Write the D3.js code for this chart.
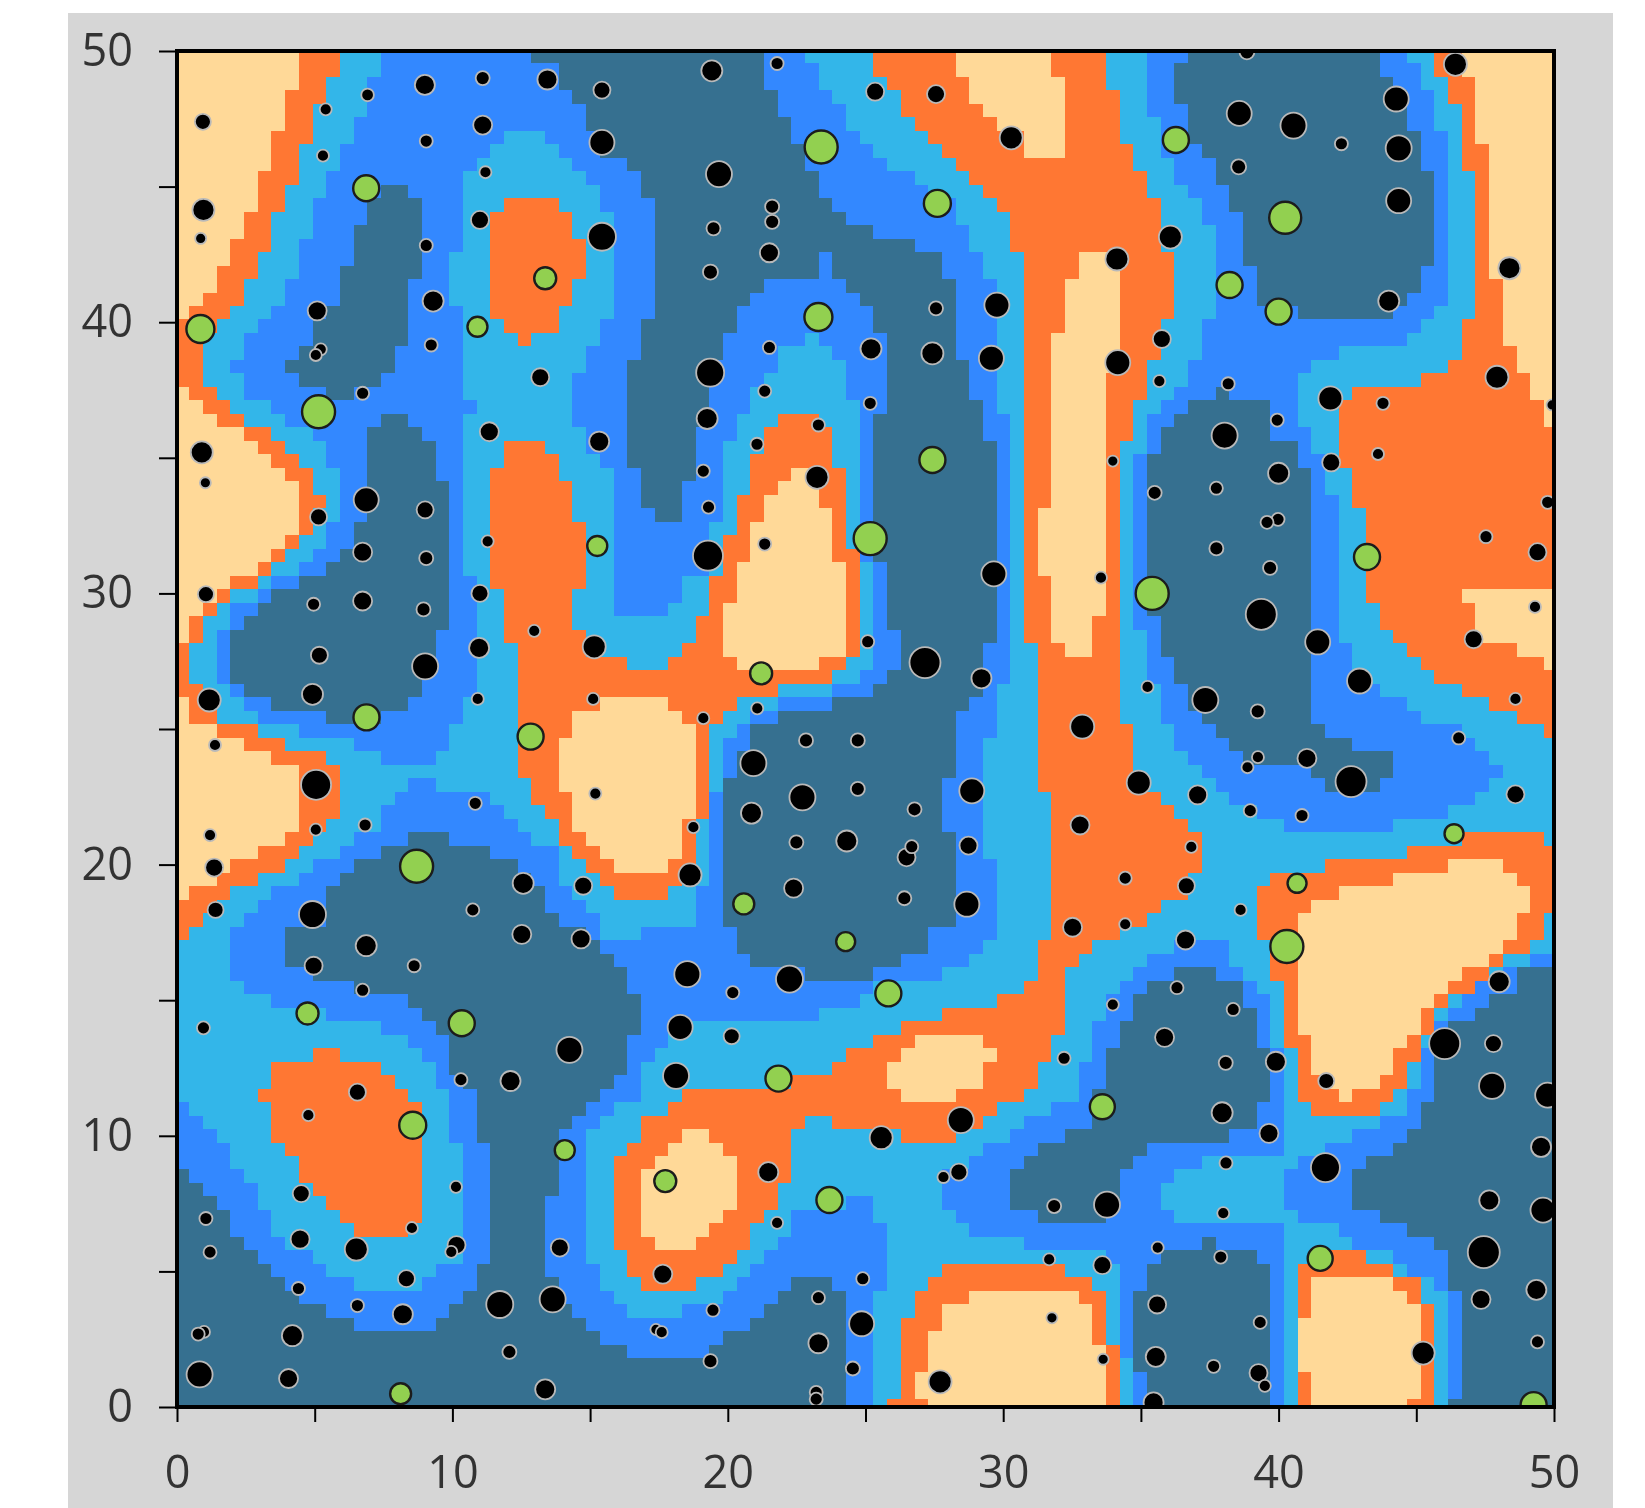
<!DOCTYPE html>
<html><head><meta charset="utf-8">
<script src="https://cdn.jsdelivr.net/npm/d3@7/dist/d3.min.js"></script>
<style>html,body{margin:0;padding:0;background:#fff}svg{display:block;filter:blur(0.6px)}</style>
</head><body><svg id="c" width="1645" height="1508"></svg>
<script>
const tickValues=[0,5,10,15,20,25,30,35,40,45,50];
const tickLabels=[0,10,20,30,40,50];
const classColors={teal:"#367090",blue:"#3388FF",sky:"#33B6E9",orange:"#FF7733",peach:"#FFD998"};

const blueMain=[[7.35,50],[22.75,50],[22.75,49.55],[23.3,49.55],[23.3,48.4],[23.7,48.4],[23.7,48],[24.25,48],[24.25,47],[24.7,47],[24.7,46.5],[25.2,46.5],[25.2,46],[25.7,46],[25.7,45.5],[26.7,45.5],[26.7,45],[27.2,45],[27.2,44.5],[28.2,44.5],[28.2,43.5],[28.75,43.5],[28.75,42.5],[29.15,42.5],[29.15,41.55],[29.75,41.55],[29.75,36.5],[30.2,36.5],[30.2,26.7],[29.75,26.7],[29.75,24.6],[29.15,24.6],[29.15,20.2],[29.75,20.2],[29.75,17.2],[29.15,17.2],[29.15,16.7],[28.8,16.7],[28.8,16.2],[27.65,16.2],[27.65,15.75],[26.3,15.75],[24.75,15.2],[24.75,14.75],[23.3,14.75],[23.3,14.2],[17.85,14.2],[17.85,13.2],[17.3,13],[17.3,12.6],[16.9,12.6],[16.9,11.3],[16.45,11.3],[15.75,10.7],[15.3,10.3],[14.75,9.8],[14.75,5.2],[15.3,5.2],[15.3,4.25],[15.75,4.25],[15.75,3.7],[16.3,3.7],[16.3,3.25],[18.25,3.25],[18.25,3.7],[19.7,3.7],[19.7,4.2],[20.2,4.2],[20.2,4.6],[20.8,4.6],[20.8,5.15],[21.25,5.15],[21.25,5.7],[21.8,5.7],[21.8,6.2],[22.4,6.2],[22.4,7.2],[24.3,7.2],[24.3,7.75],[25.2,7.75],[25.2,6.8],[25.7,6.8],[25.7,4.25],[25.3,4.25],[25.3,0],[0,0],[0,11.25],[0.5,11.25],[0.5,10.7],[0.9,10.7],[0.9,10.3],[1.45,10.3],[1.45,9.7],[1.85,9.7],[1.85,8.75],[2.4,8.75],[2.4,8.3],[2.85,8.3],[2.85,7.2],[3.4,7.2],[3.4,6.2],[3.85,6.2],[3.85,5.7],[4.95,5.7],[4.95,5.2],[5.4,5.2],[5.4,4.75],[6.35,4.75],[6.35,4.25],[8.9,4.25],[8.9,4.75],[9.3,4.75],[9.3,5.2],[10.4,5.2],[10.4,9.7],[9.85,9.7],[9.85,11.6],[9.3,11.6],[9.3,12.7],[8.9,12.7],[8.9,13.2],[8.3,13.2],[8.3,13.8],[7.35,13.8],[7.35,14.2],[5.4,14.2],[5.4,14.75],[3.4,14.75],[3.4,15.2],[2.4,15.2],[2.4,15.8],[1.85,15.8],[1.85,17.7],[2.4,17.7],[2.4,18.15],[2.85,18.15],[2.85,18.7],[3.45,18.7],[3.45,19.25],[4.4,19.25],[4.4,19.7],[4.95,19.7],[4.95,20.2],[5.9,20.2],[5.9,20.6],[6.35,20.6],[6.35,21.2],[7.3,21.2],[7.3,22.2],[8.35,22.6],[8.35,23.2],[9.3,23.2],[9.3,22.6],[11.35,22.6],[11.35,22.2],[11.75,22.2],[11.75,21.65],[12.4,21.65],[12.4,21.2],[12.9,21.2],[12.9,20.6],[13.8,20.6],[13.8,19.7],[14.35,19.2],[14.75,18.7],[15.3,18.1],[15.3,17.1],[16.9,17.1],[16.9,17.7],[18.8,17.7],[18.8,19.25],[19.25,19.25],[19.25,22.6],[19.8,22.6],[19.8,24.6],[20.25,24.6],[20.25,25.15],[20.8,25.15],[20.8,25.7],[21.8,25.7],[21.8,26.2],[23.7,26.2],[23.7,26.7],[24.75,26.7],[24.75,27.1],[25.3,27.1],[25.3,31.2],[24.7,31.2],[24.7,37.1],[24.25,37.1],[24.25,38.6],[23.7,38.6],[23.7,39],[23.3,39],[23.3,39.6],[22.75,39.6],[22.75,39],[21.8,39],[21.8,38],[21.2,38],[21.2,37.6],[20.8,37.6],[20.8,36.5],[20.2,36.5],[20.2,35.5],[19.8,35.5],[19.8,32.4],[19.25,32.4],[19.25,30.6],[18.25,30.6],[18.25,29.6],[17.85,29.6],[17.85,29.1],[15.75,29.1],[15.75,34.5],[15.3,34.5],[15.3,35.1],[14.75,35.1],[14.75,36.1],[14.35,36.1],[14.35,38],[14.75,38],[14.75,39],[15.3,39],[15.3,40],[15.75,40],[15.75,44.1],[15.3,44.1],[15.3,45],[14.75,45],[14.35,46],[13.8,46.5],[12.8,47],[11.85,47],[11.35,46.5],[10.8,46],[10.4,45.5],[10.4,42.5],[9.85,42.5],[9.85,40.6],[10.4,40.6],[10.4,37],[10.85,37],[10.85,36.5],[10.4,36.5],[10.4,30.7],[10.85,30.7],[10.85,26.1],[10.4,26.1],[10.4,25.2],[9.85,25.2],[9.85,24.2],[9.3,24.2],[9.3,23.6],[7.3,23.6],[7.3,24.2],[6.35,24.2],[6.35,24.6],[4.35,24.6],[4.35,25.15],[2.85,25.15],[2.85,25.8],[2.4,25.8],[2.4,26.1],[1.85,26.1],[1.85,26.7],[1.45,26.7],[1.45,28.65],[1.85,28.65],[1.85,29.6],[2.85,29.6],[2.85,30],[3.45,30],[3.45,30.6],[4.4,30.6],[4.4,31.1],[4.95,31.1],[4.95,31.6],[5.4,31.6],[5.4,32.5],[5.9,32.5],[5.9,34.5],[5.4,34.5],[5.4,35.6],[4.95,35.6],[4.95,36.1],[3.85,36.1],[3.85,36.6],[3.4,36.6],[3.4,37],[2.4,37],[2.4,38],[1.85,38],[1.85,38.6],[2.4,38.6],[2.4,39.5],[2.85,39.5],[2.85,40],[3.45,40],[3.45,40.6],[3.85,40.6],[3.85,41.55],[4.4,41.55],[4.4,43],[4.95,43],[4.95,44.4],[5.4,44.4],[5.4,45.5],[5.9,45.5],[5.9,46.5],[6.35,46.5],[6.35,47.5],[6.9,47.5],[6.9,49],[7.35,49]];
const blueNE=[[35.2,50],[44.6,50],[44.6,49.55],[45,49.55],[45,48.5],[45.55,48.5],[45.55,47],[46.15,47],[46.15,40.6],[45.5,40.6],[45.5,40],[45.05,40],[45.05,39.5],[44.6,39.5],[44.6,39],[42.1,39],[42.1,38.5],[41.1,38.5],[41.1,38],[40.65,38],[40.65,36.1],[41.1,36.1],[41.1,35.1],[41.65,35.1],[41.65,33.6],[42.1,33.6],[42.1,28.1],[42.6,28.1],[42.6,26.7],[43.6,26.7],[43.6,26.1],[44.6,26.1],[44.6,25.65],[45,25.65],[45,25.15],[46.6,25.15],[46.6,24.6],[47.15,24.6],[47.15,24.15],[47.55,24.15],[47.55,23.6],[48.1,23.6],[48.1,23.2],[47.55,23.2],[47.55,22.6],[47.15,22.6],[47.15,22.2],[46.15,22.2],[46.15,21.7],[44.05,21.7],[44.05,21.2],[40.1,21.2],[40.1,21.7],[39.2,21.7],[39.2,22.2],[38.2,22.2],[38.2,22.6],[37.65,22.6],[37.65,23.2],[37.2,23.2],[37.2,23.6],[36.65,23.6],[36.65,24.2],[36.2,24.2],[36.2,25.15],[35.65,25.15],[35.65,26.7],[35.2,26.7],[35.2,28.65],[34.7,28.65],[34.7,35.1],[35.2,35.1],[35.2,36.5],[35.65,36.5],[35.65,37.05],[36.2,37.05],[36.2,37.55],[36.7,37.55],[36.7,38.6],[37.2,38.6],[37.2,40],[37.6,40],[37.6,43.5],[37.2,43.5],[37.2,44.5],[36.7,44.5],[36.7,45],[36.2,45],[36.2,46],[35.65,46],[35.65,47.45],[35.2,47.45]];
const blueS=[[36.2,17.2],[38.2,17.2],[38.2,16.1],[38.6,16.1],[38.6,15.75],[39.15,15.75],[39.15,15.2],[39.6,15.2],[39.6,13.2],[40.1,13.2],[40.1,9.3],[37.2,9.3],[37.2,8.75],[36.2,8.75],[36.2,8.3],[35.65,8.3],[35.65,7.2],[36.2,7.2],[36.2,6.8],[40.1,6.8],[40.1,0],[34.7,0],[34.7,1.85],[34.25,1.85],[34.25,5.2],[33.65,5.2],[33.65,5.8],[30.75,5.8],[30.75,6.2],[28.8,6.2],[28.8,6.8],[28.2,6.8],[28.2,7.2],[27.65,7.2],[27.65,8.7],[28.8,8.7],[28.8,9.3],[29.15,9.3],[29.15,9.7],[30.2,9.7],[30.2,10.3],[30.75,10.3],[30.75,10.65],[31.7,10.65],[31.7,11.25],[32.7,11.25],[32.7,12.7],[33.2,12.7],[33.2,14.1],[33.7,14.1],[33.7,15.2],[34.25,15.2],[34.25,15.75],[34.7,15.75],[34.7,16.2],[35.2,16.2],[35.2,16.7],[36.2,16.7]];
const blueSE=[[50,16.7],[49.15,16.7],[49.15,16.2],[48.55,16.2],[47.55,15.75],[47.1,15.2],[46.5,14.75],[45.6,14.1],[45.6,13.8],[45,12.7],[45,11.7],[44.6,11.1],[44.05,10.7],[43.1,10.3],[42.1,9.7],[41.2,9.3],[40.65,9.3],[40.65,8.75],[40.1,8.75],[40.1,7.2],[40.65,7.2],[40.65,6.8],[42.1,6.8],[42.1,6.2],[43.6,5.8],[44.6,5.2],[45,4.8],[45.6,4.8],[45.6,4.25],[46.2,4.25],[46.2,0],[50,0]];

const tealLeftTop=[[7.4,45.1],[8.3,45.1],[8.3,44.5],[8.9,44.5],[8.9,41.5],[8.3,41.5],[8.3,39],[7.85,39],[7.85,38],[7.3,38],[7.3,37.6],[6.5,37.6],[6.5,37.1],[5.4,37.1],[5.4,37.6],[4.4,37.6],[4.4,38],[3.8,38],[3.8,38.6],[4.4,38.6],[4.4,39],[4.95,39],[4.95,40],[5.9,40.6],[5.9,42],[6.35,42],[6.35,43.5],[6.95,43.5],[6.95,44.5],[7.4,44.5]];
const tealCentre=[[12.8,50],[21.2,50],[21.2,48.4],[21.7,48.4],[21.7,47.4],[22.3,47.4],[22.3,46.5],[22.7,46.5],[22.7,45.5],[23.3,45.5],[23.3,44.5],[23.7,44.5],[23.7,44.05],[24.25,44.05],[24.25,43.5],[25.2,43.5],[25.2,43.1],[26.6,43.1],[26.6,42.5],[27.6,42.5],[27.6,41.55],[28.2,41.55],[28.2,38.6],[28.75,38.6],[28.75,37],[29.16,37],[29.16,35.5],[29.75,35.5],[29.75,28.1],[29.2,28.1],[29.2,26.2],[28.75,26.2],[28.75,25.7],[28.2,25.7],[28.2,23.2],[27.65,23.2],[27.65,21.2],[28.2,21.2],[28.2,17.7],[27.65,17.7],[27.2,17.1],[27.2,16.7],[26.25,16.7],[26.25,16.2],[25.2,16.2],[25.2,15.75],[22.8,15.75],[22.8,16.2],[20.8,16.2],[20.8,16.7],[20.25,16.7],[20.25,17.7],[19.8,17.7],[19.8,23.2],[20.25,23.2],[20.25,24.2],[20.8,24.2],[20.8,25.15],[21.8,25.15],[21.8,25.7],[23.7,25.7],[23.7,26.2],[25.3,26.2],[25.3,26.7],[25.7,26.7],[25.7,27.1],[26.25,27.1],[26.25,28.65],[25.7,28.65],[25.7,31.2],[25.3,31.2],[25.3,36.5],[25.7,36.5],[25.7,39.6],[25.2,39.6],[25.2,40.6],[24.7,40.6],[24.7,41.1],[24.25,41.1],[24.25,41.6],[23.7,41.6],[23.7,42.5],[23.3,42.5],[23.3,41.6],[21.2,41.6],[21.2,41.1],[20.8,41.1],[20.8,40.6],[20.2,40.6],[20.2,39.6],[19.8,39.6],[19.8,38.5],[19.3,38.5],[19.3,36.3],[18.8,36.3],[18.8,34.1],[18.25,34.1],[18.25,32.6],[17.3,32.6],[17.3,33.2],[16.9,33.2],[16.9,34.5],[16.3,34.5],[16.3,38.6],[16.9,38.6],[16.9,40],[17.3,40],[17.3,44.5],[16.9,44.5],[16.9,45.5],[16.3,45.5],[16.3,46.1],[15.7,46.1],[14.75,47.5],[14.75,48],[14.3,48],[14.3,48.5],[13.8,48.5],[13.8,49.6],[12.8,49.6]];
const tealLeftMid=[[7.35,36.5],[8.3,36.5],[8.3,36],[8.85,36],[8.85,35.5],[9.25,35.5],[9.25,34.5],[9.85,33.6],[9.85,28.65],[9.3,28.65],[9.3,27.3],[8.8,27.3],[8.8,26.1],[8.3,26.1],[8.3,25.7],[7.3,25.7],[7.3,25.15],[5.4,25.15],[5.4,25.7],[3.45,25.7],[3.45,26.1],[2.4,26.1],[2.4,26.7],[1.85,26.7],[1.85,28.65],[2.4,28.65],[2.4,29.1],[2.85,29.1],[2.85,29.6],[3.45,29.6],[3.45,30],[4.4,30],[4.4,30.6],[5.4,30.6],[5.4,31.1],[5.9,31.1],[5.9,31.6],[6.35,31.6],[6.35,32.6],[6.9,32.6],[6.9,36],[7.35,36]];
const tealSouthWest=[[8.35,21.2],[9.85,21.2],[9.85,20.65],[11.35,20.65],[11.35,20.2],[12.3,20.2],[12.3,19.7],[13.3,19.3],[13.3,18.6],[13.8,18.1],[14.35,17.7],[15.3,17.15],[15.3,16.7],[15.8,16.7],[15.8,16.2],[16.3,16.2],[16.3,15.2],[16.9,15.2],[16.9,13.8],[16.3,13.8],[16.3,12.2],[15.75,12.2],[15.75,11.7],[15.3,11.7],[15.3,11.2],[14.75,11.2],[14.75,10.7],[14.35,10.7],[14.35,10.3],[13.8,10.3],[13.8,7.75],[13.35,7.75],[13.35,4.8],[13.8,4.8],[13.8,3.8],[14.35,3.8],[14.35,3.3],[14.75,3.3],[14.75,2.8],[15.3,2.8],[15.3,2.3],[16.45,2.3],[16.45,1.85],[19.15,1.85],[19.15,2.3],[19.85,2.3],[19.85,2.8],[20.8,2.8],[20.8,3.3],[21.25,3.3],[21.25,3.8],[21.8,3.8],[21.8,4.25],[22.3,4.25],[22.3,4.75],[23.7,4.75],[23.7,4.25],[24.25,4.25],[24.25,0],[0,0],[0,8.65],[0.5,8.65],[0.5,8.3],[0.9,8.3],[0.9,7.75],[1.4,7.75],[1.4,7.2],[1.9,7.2],[1.9,6.15],[2.4,6.15],[2.4,5.8],[2.85,5.8],[2.85,5.2],[3.4,5.2],[3.4,4.75],[3.8,4.75],[3.8,4.25],[4.4,4.25],[4.4,3.8],[5.4,3.8],[5.4,3.3],[6.35,3.3],[6.35,2.85],[9.3,2.85],[9.3,3.3],[9.85,3.3],[9.85,3.8],[10.4,4.2],[10.85,4.8],[10.85,5.2],[11.4,5.2],[11.4,9.7],[10.85,9.7],[10.85,11.6],[10.4,12.1],[9.85,12.7],[9.85,13.8],[9.3,14.2],[8.85,14.7],[7.85,15.2],[4.95,15.75],[4.4,16.2],[3.8,16.7],[3.85,17.7],[5.4,17.7],[5.4,19.25],[5.9,19.25],[5.9,19.7],[6.35,19.7],[6.35,20.2],[7.4,20.2],[7.4,20.65],[8.35,20.65]];
const tealNE=[[36.65,50],[43.6,50],[43.6,49],[44.05,49],[44.6,48.5],[44.6,47],[45,47],[45,45.5],[45.55,45.5],[45.55,42],[45,42],[45,41.05],[44.6,41.05],[44.6,40.6],[44.05,40.6],[44.05,40],[40.55,40],[40.55,40.55],[39.15,40.55],[39.15,42],[38.6,42],[38.6,44],[38.2,44],[38.2,45],[37.65,45],[37.65,46],[37.2,46],[37.2,46.4],[36.65,46.4],[36.65,48],[36.2,48],[36.2,49.55],[36.65,49.55]];
const tealEast=[[37.65,37.55],[38.2,37.55],[38.2,37.05],[39.6,37.05],[39.6,36.1],[40.1,35.6],[40.65,35.6],[40.65,34.55],[41.1,34.55],[41.1,25.15],[41.65,25.15],[41.65,24.6],[42.65,24.6],[42.65,24.15],[44.05,24.15],[44.05,23.2],[43.6,23.2],[43.6,22.6],[42.5,22.6],[41.1,23.2],[41.1,23.6],[39.45,23.6],[38.2,24.2],[38.2,24.6],[37.65,24.6],[37.65,25.15],[37.2,25.15],[37.2,25.6],[36.65,25.6],[36.65,26.7],[36.2,26.7],[36.2,27.7],[35.65,27.7],[35.65,29.1],[35.2,29.1],[35.2,35.1],[35.65,35.1],[35.65,36.1],[36.2,36.1],[36.2,36.5],[36.65,36.5],[36.65,37.05],[37.65,37.05]];
const tealSouthCentre=[[36.2,16.1],[37.6,16.1],[37.6,15.75],[38.55,15.75],[38.55,15.2],[39.15,14.8],[39.15,13.2],[39.6,13.2],[39.6,11.3],[39.15,11.3],[39.15,10.3],[38.2,10.3],[38.2,9.7],[35.2,9.7],[35.2,9.3],[34.7,9.3],[34.7,8.75],[34.25,8.75],[34.25,7.2],[33.65,6.8],[31.15,6.8],[31.15,7.2],[30.2,7.2],[30.2,8.7],[30.75,8.7],[30.75,9.2],[31.2,9.2],[31.2,9.7],[32.1,9.7],[32.1,10.3],[33.2,10.3],[33.2,11.5],[33.7,11.5],[33.7,13.2],[34.25,13.2],[34.25,14.1],[34.7,14.1],[34.7,15.2],[35.2,15.2],[35.2,15.75],[36.2,15.75]];
const tealBottom=[[37.2,6.2],[37.6,6.2],[37.6,5.8],[39.15,5.8],[39.15,5.2],[39.6,5.2],[39.6,0],[35.2,0],[35.2,1.3],[34.7,1.3],[34.7,4.25],[35.2,4.25],[35.2,5.2],[35.65,5.2],[35.65,5.8],[37.2,5.8]];
const tealSE=[[50,16.2],[49.15,16.2],[48.55,15.75],[48.55,15.2],[47.55,15.2],[47.55,14.75],[47.1,14.75],[47.1,14.2],[46.5,14.2],[45.55,13],[45.55,11.3],[45,11.3],[45,10.3],[44.6,10.3],[44.6,9.7],[44.05,9.7],[44.05,9.3],[43.1,9.3],[43.1,8.75],[42.65,8.75],[42.65,7.2],[43.6,7.2],[43.6,6.8],[44.6,6.8],[44.6,6.2],[45.6,6.2],[45.6,5.8],[46.2,5.8],[46.2,4.25],[46.55,4.25],[46.55,0.3],[46.2,0.3],[46.2,0],[50,0]];

const orangeWest=[[0,50],[5.9,50],[5.9,49],[5.4,49],[5.4,48],[4.95,48],[4.95,46.5],[4.4,46.5],[4.4,45],[3.8,45],[3.8,44],[3.4,44],[3.4,42.5],[2.85,42.5],[2.85,41.55],[2.4,41.55],[2.4,40.6],[1.85,40.6],[1.85,40],[0.85,39.5],[0.85,37.6],[1.4,37.6],[1.4,37.05],[1.85,37.05],[1.85,36.5],[2.4,36.5],[2.4,36.1],[3.4,36.1],[3.4,35.5],[3.8,35.5],[3.8,35.1],[4.4,35.1],[4.4,34.55],[4.95,34.55],[4.95,33.6],[5.4,33.6],[5.4,33.1],[4.95,33.1],[4.95,32.2],[4.4,32.2],[4.4,31.6],[3.8,31.6],[3.8,31.2],[3.4,31.2],[3.4,30.6],[2.85,30.6],[2.85,30.1],[1.85,30.1],[1.85,29.6],[1.4,29.6],[1.4,29.1],[0.9,29.1],[0.9,28.05],[0.5,28.05],[0.5,26.7],[0.9,26.7],[0.9,26.1],[1.45,26.1],[1.45,25.15],[2.85,25.15],[2.85,24.6],[3.8,24.6],[3.8,24.2],[5.4,24.2],[5.4,23.6],[5.9,23.6],[5.9,21.65],[5.4,21.65],[4.95,21.2],[4.95,20.65],[4.4,20.65],[4.4,20.2],[3.8,20.2],[3.8,19.7],[2.85,19.7],[2.85,19.25],[1.85,19.25],[1.85,18.7],[1.4,18.7],[1.4,18.15],[0.9,18.15],[0.9,17.7],[0.5,17.7],[0.5,17.15],[0,17.15]];
const orangeTopLeft=[[11.85,44.5],[13.8,44.5],[13.8,44],[14.35,44],[14.35,43],[14.75,43],[14.75,41.55],[14.35,41.55],[14.35,40.6],[13.8,40.6],[13.8,39.6],[12.8,39.6],[12.8,39],[12.4,39],[12.4,39.6],[11.85,39.6],[11.85,40],[11.35,40],[11.35,44],[11.85,44]];
const orangeCentre=[[11.85,35.5],[13.35,35.5],[13.35,35.1],[13.8,35.1],[13.8,34.1],[14.35,34.1],[14.35,32.6],[14.75,32.6],[14.75,30],[14.35,30],[14.35,28.65],[14.75,28.65],[14.75,27.6],[16.3,27.6],[16.3,27.1],[17.85,27.1],[17.85,27.6],[18.25,27.6],[18.25,28.1],[18.8,28.1],[18.8,29.1],[19.25,29.1],[19.25,30.6],[19.8,30.6],[19.8,32.15],[20.25,32.15],[20.25,33.6],[20.8,33.6],[20.8,35.1],[21.25,35.1],[21.25,36.1],[21.8,36.1],[21.8,36.5],[23.3,36.5],[23.7,36.1],[23.7,34.55],[24.25,34.55],[24.25,31.6],[24.7,31.6],[24.7,27.7],[24.25,27.7],[24.25,27.2],[23.7,27.2],[23.7,26.7],[21.8,26.7],[21.8,26.2],[20.2,26.2],[20.2,25.7],[19.8,25.7],[19.8,25.15],[19.25,25.15],[19.25,21.65],[18.8,21.65],[18.8,19.7],[17.85,19.2],[17.85,18.7],[15.75,18.7],[15.75,19.25],[15.3,19.25],[15.3,19.7],[14.75,19.7],[14.75,20.2],[14.35,20.2],[14.35,20.6],[13.8,20.6],[13.8,21.65],[13.35,21.65],[13.35,22.2],[12.85,22.2],[12.85,23.2],[12.4,23.2],[12.4,28.1],[11.8,28.1],[11.8,30],[11.35,30],[11.35,34.55],[11.85,34.55]];
const orangeSpine=[[25.2,50],[33.7,50],[33.7,48.4],[34.25,48.4],[34.25,46.5],[34.7,46.5],[34.7,45.5],[35.2,45.5],[35.2,44.5],[35.65,44.5],[35.65,42.5],[36.2,42.5],[36.2,40],[35.65,40],[35.65,38.6],[35.2,38.6],[35.2,37.05],[34.7,37.05],[34.7,35.5],[34.25,35.5],[34.25,25.15],[34.7,25.15],[34.7,22.6],[35.65,22.6],[35.65,22.2],[36.2,22.2],[36.2,21.5],[36.6,21.5],[36.6,21.1],[37.15,21.1],[37.15,19.7],[36.6,19.7],[36.6,18.7],[35.65,18.7],[35.65,18.1],[35.2,18.1],[35.2,17.7],[34.25,17.7],[34.25,17.2],[33.7,17.2],[33.15,16.7],[32.65,16.7],[32.65,16.2],[32.1,16.2],[32.1,13.8],[31.7,13.8],[31.7,12.7],[31.15,12.7],[31.15,11.7],[30.75,11.7],[30.75,11.25],[29.75,11.25],[29.75,10.7],[29.15,10.7],[29.15,10.1],[28.2,10.1],[28.2,9.7],[26.1,9.7],[26.1,10.3],[23.7,10.3],[23.7,10.7],[22.75,10.7],[22.75,10.3],[22.3,10.3],[22.3,8.3],[21.75,8.3],[21.75,7.2],[21.25,7.2],[21.25,6.8],[20.75,6.8],[20.75,5.8],[20.2,5.8],[20.2,5.2],[19.8,5.2],[19.8,4.75],[18.8,4.75],[18.8,4.25],[16.9,4.25],[16.9,4.8],[16.3,4.8],[16.3,5.8],[15.75,5.8],[15.75,9.3],[16.3,9.3],[16.3,9.7],[16.9,9.7],[16.9,10.7],[17.85,10.7],[17.85,11.25],[18.25,11.25],[18.25,11.7],[21.5,11.7],[22.75,12.2],[23.7,12.2],[23.7,12.6],[24.3,12.6],[24.3,13.2],[25.3,13.2],[25.3,13.8],[26.25,13.8],[26.25,14.15],[27.65,14.15],[27.65,14.7],[29.75,14.7],[29.75,15.2],[30.75,15.2],[30.75,15.75],[31.15,15.75],[31.15,17.2],[31.7,17.2],[31.7,22.6],[31.15,22.6],[31.15,28.1],[30.75,28.1],[30.75,42.5],[30.2,42.5],[30.2,44],[29.75,44],[29.75,44.5],[29.15,44.5],[29.15,45],[28.75,45],[28.75,45.5],[28.2,45.5],[28.2,46],[27.65,46],[27.65,46.5],[27.2,46.5],[27.2,47],[26.7,47],[26.7,47.5],[26.25,47.5],[26.25,48.4],[25.7,48.4],[25.7,49],[25.2,49]];
const orangeSouthWest=[[4.95,13.2],[5.9,13.2],[5.9,12.6],[7.3,12.6],[7.3,12.2],[7.85,12.2],[7.85,11.7],[8.3,11.7],[8.3,11.25],[8.85,11.25],[8.85,6.85],[8.3,6.85],[8.3,6.2],[6.35,6.2],[6.35,6.8],[5.9,6.8],[5.9,7.2],[5.4,7.2],[5.4,7.75],[4.95,7.75],[4.95,8.3],[4.4,8.3],[4.4,9.3],[3.85,9.3],[3.85,9.7],[3.4,9.7],[3.4,11.25],[2.85,11.25],[2.85,11.7],[3.4,11.7],[3.4,12.6],[4.95,12.6]];
const orangeBottom=[[27.65,5.2],[32.1,5.2],[32.1,4.8],[33.1,4.8],[33.1,4.25],[33.7,4.25],[33.7,2.3],[34.25,2.3],[34.25,0],[25.7,0],[25.7,0.3],[26.25,0.3],[26.25,3.2],[26.7,3.2],[26.7,4.2],[27.2,4.2],[27.2,4.75],[27.65,4.75]];
const orangeBottomRight=[[41.5,5.8],[43,5.8],[43,5.2],[44.05,5.2],[44.05,4.8],[45,4.8],[45,3.8],[45.6,3.8],[45.6,0],[40.7,0],[40.7,5.2],[41.5,5.2]];
const orangeSE=[[46.7,21.2],[49.5,21.2],[49.5,20.65],[50,20.65],[50,18.15],[49.5,18.15],[49.5,17.15],[49.1,17.15],[49.1,16.9],[48.2,16.9],[48.2,16.2],[47.55,16.2],[47.55,15.75],[47.1,15.75],[47.1,15.2],[46.2,15.2],[46.2,14.75],[45.6,14.75],[45.6,13.8],[45.1,13.8],[45.1,12.7],[44.6,12.7],[44.6,11.7],[44.05,11.7],[44.05,11.25],[43.6,11.25],[43.6,10.7],[41.15,10.7],[41.15,11.25],[40.7,11.25],[40.7,13.2],[40.1,13.2],[40.1,15.75],[39.6,15.75],[39.6,17.2],[39.15,17.2],[39.15,19.25],[39.6,19.25],[39.6,19.7],[41.65,19.7],[41.65,20.2],[44.6,20.2],[44.6,20.65],[46.7,20.65]];
const orangeEast=[[45.6,50],[50,50],[50,24.6],[49.5,24.6],[49.5,25.15],[48.55,25.15],[48.55,25.7],[47.55,25.7],[47.55,26.1],[46.6,26.1],[46.6,26.7],[45.6,26.7],[45.6,27.1],[45.1,27.1],[45.1,27.7],[44.6,27.7],[44.6,28.1],[44.05,28.1],[44.05,28.65],[43.6,28.65],[43.6,29.6],[43.1,29.6],[43.1,33.1],[42.65,33.1],[42.65,34.5],[42.1,34.5],[42.1,37],[42.65,37],[42.65,37.6],[45,37.6],[45,38],[46.15,38],[46.15,38.6],[46.6,38.6],[46.6,40],[47.15,40],[47.15,45.5],[46.6,45.5],[46.6,48],[46.15,48],[46.15,49],[45.6,49.5]];

const peachNW=[[0,50],[4.4,50],[4.4,48.4],[3.8,48.4],[3.8,47],[3.4,47],[3.4,45.5],[2.85,45.5],[2.85,44.1],[2.4,44.1],[2.4,43.1],[1.85,43.1],[1.85,42],[1.4,42],[1.4,41],[0.9,41],[0.9,40.6],[0.5,40.6],[0.5,40],[0,40]];
const peachW=[[0,37.6],[0.5,37.6],[0.5,37.05],[0.9,37.05],[0.9,36.5],[1.4,36.5],[1.4,36.1],[2.4,36.1],[2.4,35.5],[2.85,35.5],[2.85,35.1],[3.4,35.1],[3.4,34.55],[3.8,34.55],[3.8,34.1],[4.4,34.1],[4.4,32.15],[3.8,32.15],[3.8,31.6],[3.4,31.6],[3.4,31.2],[2.85,31.2],[2.85,30.6],[1.85,30.6],[1.85,30.1],[1.4,30.1],[1.4,29.6],[0.9,29.6],[0.9,29.1],[0.5,29.1],[0.5,28.05],[0,28.05]];
const peachSW=[[0,26.1],[0.5,26.1],[0.5,25.15],[1.45,25.15],[1.45,24.6],[2.4,24.6],[2.4,24.2],[3.4,24.2],[3.4,23.6],[4.4,23.6],[4.4,21.2],[3.8,21.2],[3.8,20.65],[2.85,20.65],[2.85,20.2],[1.85,20.2],[1.85,19.7],[1.4,19.7],[1.4,19.25],[0.5,19.25],[0.5,18.7],[0,18.7]];
const peachMid=[[15.3,26.1],[17.85,26.1],[17.85,25.7],[18.25,25.7],[18.25,25.15],[18.8,25.15],[18.8,21.65],[18.25,21.65],[18.25,20.2],[17.85,20.2],[17.85,19.7],[15.75,19.7],[15.75,20.1],[15.3,20.1],[15.3,20.6],[14.75,20.6],[14.75,21.2],[14.35,21.2],[14.35,22.6],[13.8,22.6],[13.8,24.6],[14.35,24.6],[14.35,25.6],[15.3,25.6]];
const peachInner=[[22.3,34.55],[23.3,34.55],[23.3,33.1],[23.7,33.1],[23.7,31.2],[24.25,31.2],[24.25,27.7],[23.3,27.7],[23.3,27.1],[20.25,27.1],[20.25,27.7],[19.8,27.7],[19.8,29.6],[20.2,29.6],[20.2,31.2],[20.8,31.2],[20.8,32.6],[21.25,32.6],[21.25,33.55],[21.8,33.55],[21.8,34.1],[22.3,34.1]];
const peachTop=[[28.2,50],[31.7,50],[31.7,49],[32.1,49],[32.1,46],[30.75,46],[30.75,47],[29.75,47],[29.75,47.5],[29.15,47.5],[29.15,48],[28.75,48],[28.75,49],[28.2,49]];
const peachLong=[[32.7,42.5],[34.25,42.5],[34.25,38.1],[33.7,38.1],[33.7,29.1],[33.15,29.1],[33.15,27.7],[32.15,27.7],[32.15,28.1],[31.7,28.1],[31.7,30.6],[31.15,30.6],[31.15,33.1],[31.75,33.1],[31.75,39.6],[32.15,39.6],[32.15,41.55],[32.7,41.55]];
const peachSmall=[[26.7,13.8],[29.15,13.8],[29.15,13.2],[29.75,13.2],[29.75,12.7],[29.15,12.7],[29.15,11.7],[28.2,11.7],[28.2,11.25],[26.25,11.25],[26.25,11.7],[25.7,11.7],[25.7,12.6],[26.25,12.6],[26.25,13.2],[26.7,13.2]];
const peachLower=[[18.25,10.3],[19.25,10.3],[19.25,9.75],[19.8,9.75],[19.8,9.3],[20.2,9.3],[20.2,7.2],[19.8,7.2],[19.8,6.8],[19.25,6.8],[19.25,6.2],[18.8,6.2],[18.8,5.8],[17.3,5.8],[17.3,6.2],[16.9,6.2],[16.9,8.75],[17.3,8.75],[17.3,9.3],[17.85,9.3],[17.85,9.75],[18.25,9.75]];
const peachBottom=[[28.8,4.25],[32.7,4.25],[32.7,3.8],[33.1,3.8],[33.1,2.3],[33.7,2.3],[33.7,0],[27.2,0],[27.2,0.3],[26.7,0.3],[26.7,1.3],[27.2,1.3],[27.2,2.9],[27.65,2.9],[27.65,3.8],[28.8,3.8]];
const peachBottomRight=[[41.15,4.8],[44.05,4.8],[44.05,4.25],[44.6,4.25],[44.6,3.8],[45.1,3.8],[45.1,0.3],[44.6,0.3],[44.6,0],[41.15,0],[41.15,1.3],[40.7,1.3],[40.7,3.3],[41.15,3.3]];
const peachSE=[[46.2,20.2],[48.1,20.2],[48.1,19.7],[48.5,19.7],[48.5,19.25],[49.1,19.25],[49.1,18.15],[48.5,18.15],[48.5,17.15],[48.1,17.15],[48.1,16.9],[47.55,16.9],[47.55,16.2],[46.6,16.2],[46.6,15.75],[46.2,15.75],[46.2,15.2],[45.6,15.2],[45.6,14.75],[45.1,14.75],[45.1,13.8],[44.6,13.8],[44.6,13.2],[44.05,13.2],[44.05,12.2],[43.6,12.2],[43.6,11.7],[42.65,11.7],[42.65,11.25],[42.1,11.25],[42.1,11.7],[41.1,12.2],[41.1,13.8],[40.65,13.8],[40.65,18.15],[41.1,18.15],[41.1,18.7],[42.05,18.7],[42.05,19.25],[44.05,19.25],[44.05,19.7],[46.2,19.7]];
const peachNE=[[46.85,50],[50,50],[50,36.1],[49.5,36.1],[49.5,37.05],[49.1,37.05],[49.1,38],[48.55,38],[48.55,39],[48.1,39],[48.1,41.55],[47.55,41.55],[47.55,46.5],[47.15,46.5],[47.15,49],[46.85,49]];
const peachE=[[46.6,30],[50,30],[50,27.1],[49.5,27.1],[49.5,27.7],[48.55,27.7],[48.55,28.1],[47.55,28.1],[47.15,28.6],[47.15,29.6],[46.6,29.6]];

const paintOrder=[["blue",blueMain],["blue",blueNE],["blue",blueS],["blue",blueSE],
["teal",tealLeftTop],["teal",tealCentre],["teal",tealLeftMid],["teal",tealSouthWest],["teal",tealNE],["teal",tealEast],["teal",tealSouthCentre],["teal",tealBottom],["teal",tealSE],
["orange",orangeWest],["orange",orangeTopLeft],["orange",orangeCentre],["orange",orangeSpine],["orange",orangeSouthWest],["orange",orangeBottom],["orange",orangeBottomRight],["orange",orangeSE],["orange",orangeEast],
["peach",peachNW],["peach",peachW],["peach",peachSW],["peach",peachMid],["peach",peachInner],["peach",peachTop],["peach",peachLong],["peach",peachSmall],["peach",peachLower],["peach",peachBottom],["peach",peachBottomRight],["peach",peachSE],["peach",peachNE],["peach",peachE]];

const blackPoints=[[0.94,47.39,9],[6.92,48.38,7.3],[5.4,47.85,7],[9,48.75,11],[11.1,49,8],[13.45,48.95,11],[15.43,48.56,9.5],[11.1,47.27,10.5],[9.05,46.68,7.5],[15.43,46.63,13.5],[5.3,46.14,7],[11.2,45.53,7],[0.96,44.14,12],[11,43.77,10],[0.86,43.09,6.5],[9.05,42.83,7.5],[15.43,43.15,15],[9.3,40.78,11.5],[5.09,40.42,10.5],[5.22,39,7],[5.04,38.79,7],[9.23,39.16,7.5],[13.19,37.97,10],[6.74,37.38,7.5],[11.34,35.96,10.5],[15.33,35.6,11],[0.9,35.2,12],[1.03,34.08,6.5],[6.87,33.45,13.5],[9.01,33.08,9.5],
[19.42,49.27,11.5],[21.79,49.54,7.5],[25.35,48.5,10],[27.56,48.41,10],[30.29,46.8,12.5],[19.68,45.46,14],[21.61,44.26,8],[21.61,43.7,8],[19.48,43.46,8],[21.51,42.56,10.5],[19.37,41.85,8.5],[27.56,40.51,8],[29.77,40.63,13.5],[21.51,39.07,7.5],[25.2,39.02,11.5],[27.43,38.85,12],[29.57,38.67,13.5],[19.36,38.14,15],[21.34,37.46,7.5],[25.17,37.01,7.5],[19.25,36.45,11.5],[23.29,36.21,7.5],[21.06,35.5,7.5],[19.11,34.51,7.5],[23.24,34.28,12.5],[19.3,33.18,7.5],
[38.85,49.97,8.5],[46.42,49.51,12.5],[38.57,47.7,13.5],[40.54,47.25,14],[44.27,48.23,13.5],[44.36,46.41,14],[42.28,46.58,7.5],[38.55,45.73,8.5],[44.36,44.48,13.5],[36.07,43.14,12.5],[34.13,42.33,12.5],[48.38,41.99,12],[44,40.78,11.5],[35.76,39.38,10],[34.16,38.51,13.5],[35.67,37.83,7],[38.17,37.73,7.5],[41.88,37.19,13],[43.79,37.01,7.5],[47.93,37.97,12.5],[49.93,36.95,6.5],[39.95,36.39,7.5],[38.04,35.82,14],[41.91,34.83,10],[43.61,35.14,7],[33.98,34.88,6.5],[40,34.43,11.5],[37.74,33.88,7.5],[35.5,33.71,8],[49.77,33.36,7.5],
[5.14,32.82,9.5],[6.74,31.52,10.5],[9.05,31.3,8],[1.05,29.97,9],[4.96,29.6,7.5],[6.74,29.72,10.5],[8.95,29.41,8],[11,30,9.5],[11.28,31.92,7],[12.97,28.62,7],[5.17,27.72,9.5],[10.97,27.99,11],[15.15,28.03,12.5],[9.01,27.31,14],[1.17,26.07,12.5],[4.92,26.28,11.5],[10.92,26.11,7],[15.11,26.11,7],[1.38,24.41,7],[5.05,22.94,16],[15.19,22.62,7],[10.83,22.26,7.5],[6.83,21.46,7.5],[5.04,21.29,7],[1.2,21.09,7],[1.35,19.89,10],[12.57,19.31,11.5],[14.75,19.22,10],[1.4,18.33,9],[10.74,18.33,7.5],[4.92,18.16,14.5],[12.52,17.43,10.5],[14.67,17.26,10.5],[6.87,17.01,11.5],
[19.28,31.39,16],[21.34,31.82,7.5],[29.66,30.72,13.5],[33.55,30.58,7],[25.08,28.22,7.5],[27.16,27.45,16.5],[29.21,26.87,11],[21.07,25.76,7],[19.11,25.4,7],[32.87,25.09,13],[22.84,24.58,8],[24.72,24.58,8],[20.93,23.74,14],[22.71,22.48,14],[24.72,22.79,8],[28.86,22.72,13.5],[20.86,21.9,11.5],[26.78,22.04,8],[18.75,21.38,7],[32.79,21.46,10.5],[22.49,20.82,8],[24.32,20.87,11.5],[26.49,20.27,10],[26.68,20.66,7.5],[28.74,20.7,10],[18.63,19.62,12.5],[22.39,19.13,10.5],[26.41,18.76,8],[28.68,18.54,13.5],[32.52,17.69,10.5],
[39.98,32.73,7.5],[39.58,32.62,7.5],[37.74,31.66,8],[47.53,32.09,7.5],[49.4,31.52,10],[39.69,30.94,8],[39.37,29.23,16.5],[49.31,29.5,7],[47.08,28.31,10],[41.42,28.21,13.5],[42.94,26.77,13.5],[48.6,26.11,7],[35.24,26.55,7],[37.34,26.07,14],[39.24,25.65,8],[46.54,24.67,7.5],[39.25,23.96,7],[38.87,23.59,7],[41.03,23.92,10.5],[42.63,23.06,16.5],[34.92,23.02,13],[48.6,22.59,10],[37.06,22.57,10.5],[38.97,21.99,7.5],[40.85,21.81,7.5],[36.83,20.65,7],[34.43,19.5,7.5],[36.65,19.22,9.5],[38.62,18.33,7],[34.43,17.8,7],[36.62,17.22,10.5],
[4.96,16.27,10],[8.61,16.27,7.5],[6.74,15.37,7.5],[0.96,13.98,7.5],[14.25,13.17,14],[12.11,12.02,11],[10.31,12.07,7.5],[6.55,11.61,9.5],[4.77,10.76,7],[10.13,8.12,7],[1.05,6.95,7.5],[4.51,7.87,9.5],[8.53,6.6,7],[4.47,6.19,10.5],[6.51,5.82,12.5],[10.15,5.97,10],[9.96,5.72,7],[1.2,5.71,7.5],[13.9,5.88,10],[8.33,4.73,9.5],[4.41,4.37,7.5],[6.55,3.74,7.5],[8.2,3.42,11],[11.72,3.78,14.5],[13.64,3.97,14],[12.07,2.03,8],[0.98,2.77,7],[0.77,2.69,7.5],[4.19,2.63,11.5],[0.82,1.2,14],[4.05,1.05,10.5],[13.37,0.65,11],
[18.53,15.96,14],[20.18,15.28,7.5],[22.24,15.78,14.5],[18.27,14,13.5],[20.14,13.67,9],[18.12,12.21,14],[32.21,12.86,7.5],[21.47,8.66,11],[25.57,9.93,12.5],[28.46,10.58,14],[27.83,8.48,7],[28.39,8.66,9.5],[21.79,6.79,7],[17.64,4.9,10.5],[24.9,4.73,7.5],[31.85,7.41,8],[31.67,5.44,7],[33.6,5.23,10],[23.29,4.03,7.5],[19.46,3.57,7.5],[24.86,3.07,13.5],[31.77,3.29,6.5],[17.39,2.86,6.5],[17.6,2.76,7],[23.29,2.35,11],[19.37,1.69,8],[24.54,1.42,8],[27.71,0.93,12.5],[23.21,0.54,7.5],[23.21,0.29,7.5],
[48.01,15.68,11.5],[36.31,15.46,7.5],[33.98,14.84,7],[38.35,14.66,7.5],[35.86,13.63,10.5],[46.03,13.4,16.5],[47.8,13.4,9.5],[38.08,12.69,8],[39.9,12.73,11],[41.73,12.02,9],[47.75,11.84,14],[49.77,11.5,13.5],[37.95,10.85,11.5],[39.65,10.09,10.5],[49.53,9.59,11],[38.09,9,7.5],[41.7,8.83,15.5],[33.77,7.46,14],[37.99,7.15,7],[47.65,7.62,11],[49.6,7.26,13.5],[35.61,5.88,7],[47.45,5.71,17],[37.9,5.53,7.5],[49.36,4.32,11],[47.35,3.97,10.5],[35.59,3.78,10],[39.33,3.12,7.5],[49.4,2.4,7.5],[33.63,1.76,6.5],[45.25,1.99,12.5],[35.54,1.85,11],[37.64,1.5,7.5],[39.27,1.25,10],[39.5,0.78,7],[35.46,0.17,11]];
const greenPoints=[[6.87,44.94,14],[0.85,39.75,15],[13.37,41.62,12],[10.91,39.83,11],[5.14,36.7,17.5],[23.39,46.46,17.5],[27.61,44.38,14.5],[23.29,40.19,15],[27.43,34.92,14],[36.27,46.72,14],[40.24,43.85,17],[38.22,41.37,14],[40,40.39,14],[15.26,31.75,11],[6.88,25.43,14],[12.84,24.72,14],[8.7,19.94,17.5],[25.17,32.02,17.5],[21.21,27.05,12],[20.58,18.55,11.5],[24.28,17.16,10.5],[43.21,31.34,14],[35.41,30,17.5],[46.37,21.14,10.5],[40.67,19.31,10.5],[40.3,16.98,17.5],[4.74,14.51,12],[10.34,14.15,14],[8.56,10.39,14.5],[14.08,9.47,11],[8.12,0.49,11.5],[25.83,15.25,14],[21.84,12.11,14],[17.73,8.33,12],[23.69,7.63,14],[33.6,11.07,13.5],[41.51,5.48,13.5],[49.26,0.07,14]];

const svg=d3.select("#c");
const L=177,R=1554,T=51,B=1407;
const x=d3.scaleLinear().domain([0,50]).range([L,R]);
const y=d3.scaleLinear().domain([0,50]).range([B,T]);
const rScale=d3.scaleLinear().domain([0,20]).range([0,20]);

svg.append("rect").attr("x",68).attr("y",13).attr("width",1545).attr("height",1495).attr("fill","#D6D6D6");

// raster grid as seen in the picture: slightly off the axis origin
const cols=101, rows=101, x0=-0.047, dx=0.4968, y0=-0.1975, dy=0.4975;
const xe=i=>x0+i*dx, ye=j=>y0+j*dy;
const grid=d3.range(rows).map(()=>new Array(cols).fill("sky"));
paintOrder.forEach(([cls,poly])=>{
  for(let r=0;r<rows;r++)for(let c=0;c<cols;c++){
    const px=Math.min(49.99,Math.max(0.01,xe(c+.5))), py=Math.min(49.99,Math.max(0.01,ye(r+.5)));
    if(d3.polygonContains(poly,[px,py]))grid[r][c]=cls;
  }
});
const runs=[];
grid.forEach((row,r)=>{let s=0;for(let c=1;c<=cols;c++){if(c===cols||row[c]!==row[s]){runs.push({r,s,e:c,cls:row[s]});s=c;}}});
svg.append("clipPath").attr("id","plot").append("rect").attr("x",L).attr("y",T).attr("width",R-L).attr("height",B-T);
svg.append("g").attr("clip-path","url(#plot)").attr("shape-rendering","crispEdges").selectAll("rect").data(runs).join("rect")
 .attr("x",d=>Math.round(x(xe(d.s)))).attr("width",d=>Math.round(x(xe(d.e)))-Math.round(x(xe(d.s))))
 .attr("y",d=>Math.round(y(ye(d.r+1)))).attr("height",d=>Math.round(y(ye(d.r)))-Math.round(y(ye(d.r+1))))
 .attr("fill",d=>classColors[d.cls]);

const pts=svg.append("g").attr("clip-path","url(#plot)");
pts.append("g").selectAll("circle").data(blackPoints).join("circle")
 .attr("cx",d=>x(d[0])).attr("cy",d=>y(d[1])).attr("r",d=>rScale(d[2])-1)
 .attr("fill","#000").attr("stroke","#B9B9B9").attr("stroke-width",1.8);
pts.append("g").selectAll("circle").data(greenPoints).join("circle")
 .attr("cx",d=>x(d[0])).attr("cy",d=>y(d[1])).attr("r",d=>rScale(d[2])-1)
 .attr("fill","#92D050").attr("stroke","#1c1c1c").attr("stroke-width",2.4);

svg.append("rect").attr("x",L).attr("y",T).attr("width",R-L).attr("height",B-T).attr("fill","none").attr("stroke","#000").attr("stroke-width",4);

const fmt=d=>tickLabels.includes(d)?d:"";
const gx=svg.append("g").attr("transform",`translate(0,${B})`).call(d3.axisBottom(x).tickValues(tickValues).tickFormat(fmt).tickSize(15).tickSizeOuter(0));
const gy=svg.append("g").attr("transform",`translate(${L},0)`).call(d3.axisLeft(y).tickValues(tickValues).tickFormat(fmt).tickSize(18).tickSizeOuter(0));
[gx,gy].forEach(g=>{g.select(".domain").remove();g.selectAll("line").attr("stroke","#000").attr("stroke-width",2);
 g.selectAll("text").attr("font-family","'Open Sans',sans-serif").attr("font-size",45).attr("fill","#333");});
gx.selectAll("text").attr("y",49);
gy.selectAll("text").attr("x",-44);
</script></body></html>
